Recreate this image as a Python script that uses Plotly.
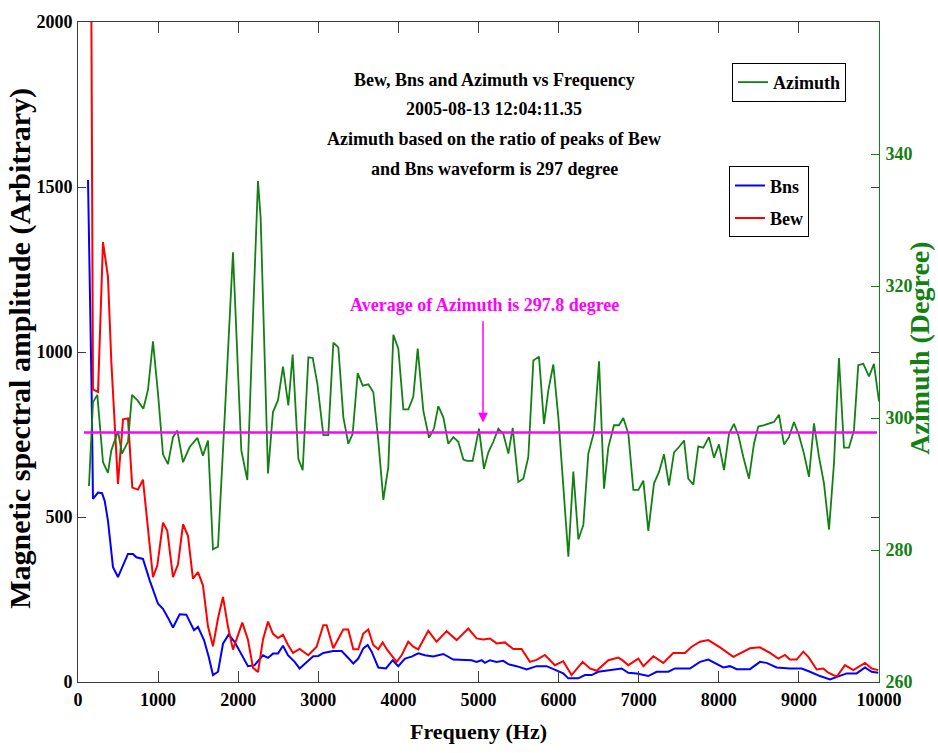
import plotly.graph_objects as go

# ---------------- data ----------------
# Azimuth (degree) versus frequency (Hz)
az_freq = [137, 187, 241, 312, 374, 416, 499, 549, 624, 674, 741, 816, 874, 936, 999,
           1061, 1123, 1186, 1240, 1311, 1394, 1490, 1560, 1623, 1685, 1748, 1831, 1935,
           2039, 2114, 2185, 2247, 2280, 2372, 2434, 2497, 2559, 2626, 2680, 2751, 2805,
           2876, 2930, 2988, 3063, 3125, 3188, 3250, 3313, 3375, 3429, 3492, 3554, 3625,
           3687, 3749, 3812, 3874, 3937, 3999, 4062, 4124, 4186, 4241, 4311, 4382, 4444,
           4498, 4561, 4623, 4686, 4748, 4811, 4860, 4927, 5006, 5068, 5123, 5185, 5248,
           5310, 5373, 5427, 5497, 5560, 5622, 5685, 5755, 5818, 5872, 5934, 5997, 6059,
           6122, 6184, 6247, 6309, 6371, 6442, 6505, 6567, 6621, 6692, 6754, 6808, 6871,
           6933, 6996, 7058, 7120, 7191, 7253, 7316, 7378, 7441, 7503, 7566, 7619, 7682,
           7744, 7807, 7877, 7940, 8002, 8065, 8127, 8189, 8244, 8306, 8377, 8439, 8493,
           8556, 8626, 8689, 8751, 8814, 8876, 8939, 9001, 9063, 9126, 9188, 9251, 9313,
           9376, 9438, 9500, 9563, 9625, 9687, 9741, 9804, 9875, 9937, 10000]
az_deg = [289.7, 302.4, 303.5, 293.3, 291.7, 295.1, 298.0, 294.6, 296.4, 303.5, 302.7,
          301.4, 304.3, 311.6, 303.7, 294.5, 293.0, 297.1, 298.1, 293.3, 295.6, 297.0,
          294.3, 296.6, 280.1, 280.5, 300.1, 325.1, 295.1, 290.6, 315.3, 335.9, 330.4,
          291.6, 300.9, 302.7, 307.8, 301.9, 309.6, 293.8, 292.1, 309.2, 309.1, 305.2,
          297.4, 297.4, 311.4, 310.7, 300.1, 296.1, 297.6, 306.8, 304.9, 305.1, 303.9,
          296.6, 287.6, 292.6, 312.6, 310.5, 301.3, 301.3, 303.2, 310.5, 301.1, 297.0,
          298.4, 301.8, 300.1, 296.1, 297.1, 296.4, 293.7, 293.5, 293.5, 298.4, 292.3,
          294.8, 296.4, 298.4, 297.6, 294.6, 298.5, 290.3, 290.8, 294.1, 308.7, 309.3,
          299.1, 304.2, 308.1, 300.1, 289.6, 279.0, 291.9, 281.6, 283.8, 294.6, 297.9,
          308.6, 289.3, 295.6, 298.9, 298.9, 300.0, 297.6, 289.1, 289.1, 290.5, 282.9,
          290.1, 291.8, 294.5, 289.8, 294.8, 295.6, 296.6, 290.8, 289.9, 295.7, 295.5,
          297.1, 294.0, 296.0, 292.1, 297.6, 299.1, 297.4, 294.1, 290.8, 296.1, 298.7,
          298.9, 299.2, 299.4, 300.5, 296.0, 297.1, 299.4, 297.4, 294.6, 291.1, 299.2,
          294.1, 290.1, 283.1, 293.1, 309.1, 295.5, 295.5, 298.1, 308.0, 308.2, 306.3,
          308.2, 302.5]

# Bns spectral amplitude
bns_freq = [125, 150, 170, 187, 250, 300, 333, 374, 437, 499, 562, 624, 687, 728, 811,
            895, 999, 1061, 1123, 1186, 1269, 1352, 1448, 1498, 1573, 1631, 1685, 1748,
            1810, 1881, 1956, 2039, 2122, 2205, 2309, 2372, 2434, 2497, 2559, 2621, 2705,
            2767, 2854, 2937, 3000, 3062, 3187, 3291, 3354, 3437, 3499, 3562, 3616, 3666,
            3749, 3845, 3928, 3998, 4082, 4165, 4248, 4331, 4435, 4560, 4685, 4810, 4914,
            4976, 5039, 5080, 5143, 5226, 5309, 5372, 5476, 5601, 5725, 5850, 5975, 6058,
            6121, 6245, 6329, 6412, 6495, 6579, 6787, 6870, 6975, 7120, 7224, 7370, 7453,
            7640, 7765, 7869, 7973, 8056, 8140, 8223, 8389, 8514, 8597, 8722, 8888, 9034,
            9138, 9263, 9388, 9492, 9596, 9721, 9825, 9908, 9991]
bns_amp = [1521, 1200, 880, 555, 574, 572, 549, 489, 348, 318, 353, 388, 388, 378, 373,
           308, 237, 222, 195, 165, 205, 204, 157, 167, 127, 77, 21, 31,
           116, 144, 121, 86, 48, 51, 81, 73, 86, 86, 110, 81, 61,
           41, 61, 78, 79, 88, 94, 94, 78, 56, 71, 102, 112, 92,
           44, 41, 66, 48, 71, 77, 87, 81, 77, 85, 68, 66, 66,
           61, 66, 58, 66, 61, 64, 54, 48, 38, 48, 48, 34, 26,
           11, 11, 21, 21, 31, 34, 41, 28, 26, 18, 31, 31, 41,
           41, 61, 68, 54, 44, 48, 39, 39, 61, 58, 44, 41, 41,
           31, 18, 8, 16, 26, 26, 44, 31, 28]

# Bew spectral amplitude
bew_freq = [125, 187, 250, 312, 374, 416, 499, 562, 624, 678, 749, 811, 936, 990, 1061,
            1115, 1186, 1248, 1311, 1373, 1435, 1498, 1560, 1623, 1685, 1748, 1810, 1872,
            1935, 2051, 2122, 2185, 2247, 2309, 2372, 2434, 2497, 2559, 2621, 2684, 2767,
            2875, 2979, 3062, 3104, 3187, 3312, 3374, 3437, 3499, 3562, 3624, 3686, 3749,
            3803, 3861, 3978, 4040, 4123, 4186, 4248, 4373, 4477, 4602, 4727, 4872, 4976,
            5060, 5143, 5226, 5330, 5434, 5538, 5642, 5725, 5829, 5954, 6058, 6162, 6300,
            6392, 6475, 6621, 6746, 6808, 6870, 6995, 7058, 7183, 7307, 7432, 7578, 7661,
            7765, 7869, 8015, 8181, 8389, 8514, 8639, 8743, 8826, 8888, 8972, 9055, 9118,
            9222, 9305, 9367, 9471, 9575, 9679, 9825, 9908, 9991]
bew_amp = [4400, 887, 879, 1333, 1228, 971, 600, 796, 799, 589, 583, 613, 318, 353, 483,
           458, 318, 356, 478, 443, 313, 333, 293, 168, 108, 193, 258, 168,
           98, 180, 128, 43, 30, 128, 183, 146, 133, 143, 113, 88, 100,
           81, 107, 172, 172, 102, 159, 159, 99, 99, 147, 159, 112, 99,
           120, 97, 61, 81, 122, 107, 99, 155, 122, 154, 127, 162, 132,
           129, 132, 117, 120, 100, 100, 61, 67, 82, 51, 63, 21, 61,
           41, 34, 66, 74, 64, 51, 71, 48, 78, 58, 88, 88, 107,
           122, 127, 105, 76, 102, 105, 88, 71, 82, 68, 68, 92, 76,
           38, 41, 28, 16, 51, 36, 58, 41, 36]

AVG_AZIMUTH = 297.8          # stated mean azimuth (degree)
AVG_SPAN = [75, 9975]        # frequency extent of the mean line (Hz)
ARROW_FREQ = 5056            # where the pointer meets the mean line

x_ticks = list(range(0, 10001, 1000))
x_tick_text = [str(v) for v in x_ticks]
y_ticks = [0, 500, 1000, 1500, 2000]
y2_ticks = [260, 280, 300, 320, 340]

title_lines = [
    "Bew, Bns and Azimuth vs Frequency",
    "2005-08-13 12:04:11.35",
    "Azimuth based on the ratio of peaks of Bew",
    "and Bns waveform is 297 degree",
]

# ---------------- styling ----------------
FONT = "Liberation Serif, Times New Roman, serif"
GREEN = "#138013"
AXIS = "#3c3c3c"
MAGENTA = "#ff00ff"

fig = go.Figure()

fig.add_trace(go.Scatter(x=bns_freq, y=bns_amp, mode="lines", name="Bns",
                         line=dict(color="#0000ff", width=2), legend="legend2",
                         legendgroup="bns"))
fig.add_trace(go.Scatter(x=bew_freq, y=bew_amp, mode="lines", name="Bew",
                         line=dict(color="#ff0000", width=2), legend="legend2",
                         legendgroup="bew"))
fig.add_trace(go.Scatter(x=az_freq, y=az_deg, mode="lines", name="Azimuth",
                         line=dict(color=GREEN, width=1.8), yaxis="y2", legend="legend"))
fig.add_trace(go.Scatter(x=AVG_SPAN, y=[AVG_AZIMUTH, AVG_AZIMUTH], mode="lines",
                         line=dict(color=MAGENTA, width=2.5), yaxis="y2", showlegend=False))

tick_font = dict(family=FONT, size=18, color="black", weight="bold")

fig.update_layout(
    width=938, height=753, autosize=False,
    margin=dict(l=78, r=59, t=19, b=71),
    paper_bgcolor="white", plot_bgcolor="white",
    font=dict(family=FONT, color="black"),
    xaxis=dict(range=[0, 10000], tickvals=x_ticks, ticktext=x_tick_text,
               ticks="inside", ticklen=11,
               tickcolor=AXIS, tickwidth=1, showline=True, linecolor=AXIS, linewidth=1,
               mirror="ticks", showgrid=False, zeroline=False, tickfont=tick_font,
               ticklabelstandoff=1),
    yaxis=dict(range=[0, 2000], tickvals=y_ticks, ticks="inside", ticklen=8,
               tickcolor=AXIS, tickwidth=1, showline=True, linecolor=AXIS, linewidth=1,
               mirror="ticks", showgrid=False, zeroline=False, tickfont=tick_font,
               ticklabelstandoff=1),
    yaxis2=dict(range=[260, 360], tickvals=y2_ticks, overlaying="y", side="right",
                ticks="inside", ticklen=8, tickcolor=GREEN, tickwidth=1, showline=True,
                linecolor=GREEN, linewidth=1, showgrid=False, zeroline=False,
                tickfont=dict(family=FONT, size=18, color=GREEN, weight="bold"),
                ticklabelstandoff=2),
    legend=dict(x=0.8165, y=0.938, xanchor="left", yanchor="top",
                bordercolor="black", borderwidth=1, bgcolor="white",
                font=dict(family=FONT, size=18, color="black", weight="bold")),
    legend2=dict(x=0.8127, y=0.7813, xanchor="left", yanchor="top",
                 bordercolor="black", borderwidth=1, bgcolor="white",
                 tracegroupgap=6,
                 font=dict(family=FONT, size=18, color="black", weight="bold")),
)

# centred title block inside the axes
title_y = [0.9125, 0.8678, 0.8225, 0.7780]
for txt, ty in zip(title_lines, title_y):
    fig.add_annotation(text=txt, xref="paper", yref="paper", x=0.5194, y=ty,
                       xanchor="center", yanchor="middle", showarrow=False,
                       font=dict(family=FONT, size=18, color="black", weight="bold"))

# mean azimuth label and pointer
fig.add_annotation(text=f"Average of Azimuth is {AVG_AZIMUTH} degree",
                   xref="paper", yref="paper", x=0.5069, y=0.5716,
                   xanchor="center", yanchor="middle", showarrow=False,
                   font=dict(family=FONT, size=18, color=MAGENTA, weight="bold"))
fig.add_annotation(text="", x=ARROW_FREQ, y=AVG_AZIMUTH, xref="x", yref="y2",
                   ax=ARROW_FREQ, ay=314.9, axref="x", ayref="y2",
                   showarrow=True, arrowhead=2, arrowsize=1.3, arrowwidth=1.5,
                   arrowcolor=MAGENTA, standoff=10)

# axis titles
fig.add_annotation(text="Magnetic spectral amplitude (Arbitrary)", xref="paper",
                   yref="paper", x=-0.0724, y=0.505, textangle=-90, showarrow=False,
                   xanchor="center", yanchor="middle",
                   font=dict(family=FONT, size=30, color="black", weight="bold"))
fig.add_annotation(text="Azimuth (Degree)", xref="paper", yref="paper",
                   x=1.0512, y=0.505, textangle=-90, showarrow=False,
                   xanchor="center", yanchor="middle",
                   font=dict(family=FONT, size=28, color=GREEN, weight="bold"))
fig.add_annotation(text="Frequeny (Hz)", xref="paper", yref="paper",
                   x=0.4994, y=-0.0754, showarrow=False,
                   xanchor="center", yanchor="middle",
                   font=dict(family=FONT, size=22, color="black", weight="bold"))

fig.write_html("out.html")
